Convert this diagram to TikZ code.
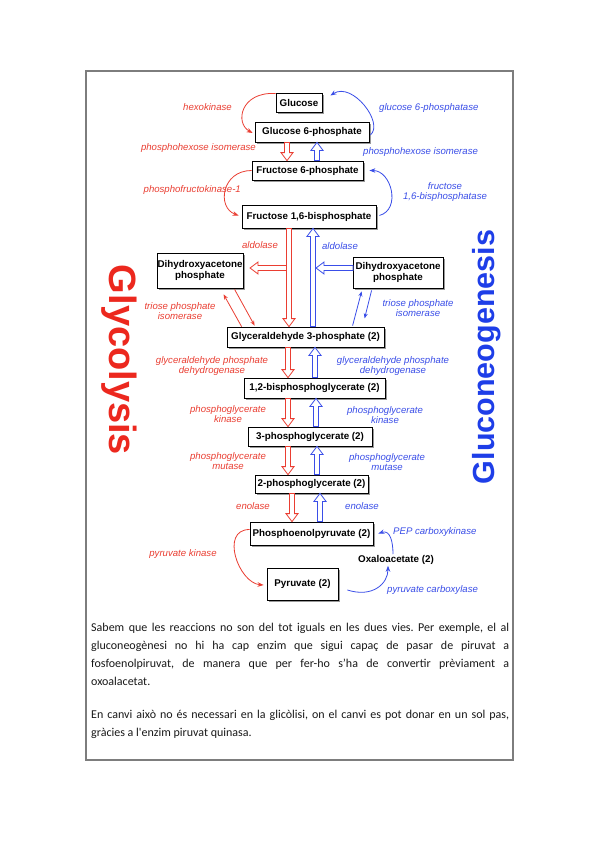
\documentclass[tikz,border=0pt]{standalone}
\usepackage{fontspec}
\setmainfont{Liberation Sans}
\newfontfamily\bodyfont{Carlito}
\usetikzlibrary{calc,arrows.meta,shadows}
\frenchspacing
\definecolor{gred}{RGB}{234,62,50}
\definecolor{gblue}{RGB}{58,78,232}
\definecolor{tred}{RGB}{236,40,30}
\definecolor{tblue}{RGB}{30,62,232}
\definecolor{framegray}{RGB}{125,125,125}
\newcommand\hollowarrow[3]{%
  \coordinate (hb) at ($(#3)!8pt!(#2)$);
  \draw[#1, line width=0.8pt, fill=white, line join=miter]
    ($(#2)!2.5pt!90:(#3)$) -- ($(hb)!2.5pt!90:(#3)$) -- ($(hb)!6pt!90:(#3)$) -- (#3)
    -- ($(hb)!6pt!-90:(#3)$) -- ($(hb)!2.5pt!-90:(#3)$) -- ($(#2)!2.5pt!-90:(#3)$) -- cycle;}
\tikzset{
  box/.style={draw=black, line width=0.8pt, fill=white, inner sep=0pt, align=center,
    font=\fontsize{9.8}{10.5}\selectfont\bfseries,
    drop shadow={shadow xshift=2pt, shadow yshift=-2pt, fill=black!40, opacity=1}},
  rlab/.style={text=gred, inner sep=0pt, align=center, font=\fontsize{9.6}{10}\selectfont\itshape},
  blab/.style={text=gblue, inner sep=0pt, align=center, font=\fontsize{9.6}{10}\selectfont\itshape},
  rcurve/.style={draw=gred, line width=0.8pt, -{Stealth[length=6pt,width=4.5pt]}},
  bcurve/.style={draw=gblue, line width=0.8pt, -{Stealth[length=6pt,width=4.5pt]}},
  body/.style={inner sep=0pt, anchor=base west, text=black!90, font=\bodyfont\fontsize{12}{18}\selectfont},
}
\begin{document}
\begin{tikzpicture}[x=1pt,y=-1pt]
\useasboundingbox (0,0) rectangle (599,848);
\fill[white] (0,0) rectangle (599,848);
\draw[framegray, line width=1.5pt] (86,71) rectangle (513,760);

% boxes
\node[box, minimum width=46pt, minimum height=19pt] (glc) at (299,102.5) {Glucose};
\node[box, minimum width=114pt, minimum height=20pt] (g6p) at (312,132) {Glucose 6-phosphate};
\node[box, minimum width=111pt, minimum height=19pt] (f6p) at (307.5,170.5) {Fructose 6-phosphate};
\node[box, minimum width=134pt, minimum height=23pt] (fbp) at (309,216.5) {Fructose 1,6-bisphosphate};
\node[box, minimum width=86pt, minimum height=35pt] (dhapl) at (200,270.5) {Dihydroxyacetone\\phosphate};
\node[box, minimum width=90pt, minimum height=31pt] (dhapr) at (398,272.5) {Dihydroxyacetone\\phosphate};
\node[box, minimum width=157pt, minimum height=20pt] (g3p) at (305.5,337) {Glyceraldehyde 3-phosphate (2)};
\node[box, minimum width=141pt, minimum height=20pt] (bpg) at (314.5,388) {1,2-bisphosphoglycerate (2)};
\node[box, minimum width=124pt, minimum height=19pt] (pg3) at (310,436.5) {3-phosphoglycerate (2)};
\node[box, minimum width=113pt, minimum height=18pt] (pg2) at (311.5,484) {2-phosphoglycerate (2)};
\node[box, minimum width=123pt, minimum height=23pt] (pep) at (311.5,533.5) {Phosphoenolpyruvate (2)};
\node[box, minimum width=71pt, minimum height=32pt] (pyr) at (302.5,584) {Pyruvate (2)};
\node[inner sep=1pt, font=\fontsize{9.8}{10.5}\selectfont\bfseries] (oxa) at (396,560) {Oxaloacetate (2)};

% column coordinates
\coordinate (ra) at (287,0); \coordinate (ba) at (317,0);
\coordinate (rb) at (289,0); \coordinate (bb) at (313,0);
\coordinate (rc) at (288,0); \coordinate (bc) at (315,0);
\coordinate (rd) at (288,0); \coordinate (bd) at (316,0);
\coordinate (re) at (288,0); \coordinate (be) at (317,0);
\coordinate (rf) at (292,0); \coordinate (bf) at (320,0);
\coordinate (rbr) at (289,268); \coordinate (rtip) at (250,268);
\coordinate (bbr) at (353,268); \coordinate (btip) at (316,268);

% hollow arrows
\hollowarrow{gred}{ra |- g6p.south}{ra |- f6p.north}
\hollowarrow{gblue}{ba |- f6p.north}{ba |- g6p.south}
\hollowarrow{gred}{rbr}{rtip}
\hollowarrow{gred}{rb |- fbp.south}{rb |- g3p.north}
\hollowarrow{gblue}{bb |- g3p.north}{bb |- fbp.south}
\hollowarrow{gblue}{bbr}{btip}
\hollowarrow{gred}{rc |- g3p.south}{rc |- bpg.north}
\hollowarrow{gblue}{bc |- bpg.north}{bc |- g3p.south}
\hollowarrow{gred}{rd |- bpg.south}{rd |- pg3.north}
\hollowarrow{gblue}{bd |- pg3.north}{bd |- bpg.south}
\hollowarrow{gred}{re |- pg3.south}{re |- pg2.north}
\hollowarrow{gblue}{be |- pg2.north}{be |- pg3.south}
\hollowarrow{gred}{rf |- pg2.south}{rf |- pep.north}
\hollowarrow{gblue}{bf |- pep.north}{bf |- pg2.south}

% curved arrows
\draw[rcurve] ($(glc.west)+(0,-9)$) .. controls +(-35,-2) and +(-18,-10) .. ($(g6p.west)+(-2,1)$);
\draw[bcurve] ($(g6p.east)+(1,3)$) .. controls +(14,-12) and +(22,-14) .. ($(glc.east)+(8,-7)$);
\draw[rcurve] (f6p.west) .. controls +(-30,0) and +(-22,-8) .. ($(fbp.west)+(-3,-1)$);
\draw[bcurve] ($(fbp.east)+(3,-1)$) .. controls +(22,-6) and +(22,0) .. ($(f6p.east)+(6,0)$);
\draw[rcurve] ($(pep.west)+(0,-4)$) .. controls +(-30,0) and +(-25,-2) .. ($(pyr.west)+(-3,1)$);
\draw[bcurve] ($(oxa.north)+(-3,0)$) .. controls +(0,-12) and +(12,-4) .. ($(pep.east)+(5,0)$);
\draw[bcurve] ($(pyr.east)+(9,6)$) .. controls +(25,8) and +(0,18) .. ($(oxa.south)+(-8,0)$);

% triose phosphate isomerase arrows
\draw[draw=gred, line width=0.8pt, -{Stealth[length=5pt,width=4pt]}] ($(g3p.north west)+(15,0)$) -- ($(dhapl.south west)+(67,6)$);
\draw[draw=gred, line width=0.8pt, -{Stealth[length=5pt,width=4pt]}] ($(dhapl.south west)+(78,1)$) -- ($(g3p.north west)+(28,-1)$);
\draw[draw=gblue, line width=0.8pt, -{Stealth[length=5pt,width=4pt]}] ($(g3p.north west)+(126,-1)$) -- ($(dhapr.south west)+(9,3)$);
\draw[draw=gblue, line width=0.8pt, -{Stealth[length=5pt,width=4pt]}] ($(dhapr.south west)+(19,2)$) -- ($(dhapr.south west)+(12,30)$);

% labels
\node[rlab, anchor=east] (l1) at (232,107) {hexokinase};
\node[blab, anchor=west] (l2) at (379,108) {glucose 6-phosphatase};
\node[rlab, anchor=east] (l3) at (256,148) {phosphohexose isomerase};
\node[blab, anchor=west] (l4) at (363,152) {phosphohexose isomerase};
\node[rlab, anchor=east] (l5) at (241,190) {phosphofructokinase-1};
\node[blab] (l6) at (445,192) {fructose\\1,6-bisphosphatase};
\node[rlab] (l7) at (260,245) {aldolase};
\node[blab] (l8) at (340,246) {aldolase};
\node[rlab] (l9) at (180,311) {triose phosphate\\isomerase};
\node[blab] (l10) at (418,308) {triose phosphate\\isomerase};
\node[rlab] (l11) at (212,366) {glyceraldehyde phosphate\\dehydrogenase};
\node[blab] (l12) at (393,366) {glyceraldehyde phosphate\\dehydrogenase};
\node[rlab] (l13) at (228,414) {phosphoglycerate\\kinase};
\node[blab] (l14) at (385,415) {phosphoglycerate\\kinase};
\node[rlab] (l15) at (228,461) {phosphoglycerate\\mutase};
\node[blab] (l16) at (387,462) {phosphoglycerate\\mutase};
\node[rlab] (l17) at (253,506) {enolase};
\node[blab] (l18) at (362,506) {enolase};
\node[rlab] (l19) at (183,554) {pyruvate kinase};
\node[blab, anchor=west] (l20) at (393,532) {PEP carboxykinase};
\node[blab, anchor=west] (l21) at (387,590) {pyruvate carboxylase};

% big titles
\node[rotate=-90, text=tred, inner sep=0pt, font=\fontsize{38}{38}\selectfont\bfseries] (glyc) at (119,360) {Glycolysis};
\node[rotate=90, text=tblue, inner sep=0pt, font=\fontsize{30.5}{30.5}\selectfont\bfseries] (gng) at (487,357) {Gluconeogenesis};

% body text
\node[body] (t1) at (91,631) {\makebox[418pt][s]{Sabem que les reaccions no son del tot iguals en les dues vies. Per exemple, el al}};
\node[body] (t2) at (91,649) {\makebox[418pt][s]{gluconeogènesi no hi ha cap enzim que sigui capaç de pasar de piruvat a}};
\node[body] (t3) at (91,667) {\makebox[418pt][s]{fosfoenolpiruvat, de manera que per fer-ho s’ha de convertir prèviament a}};
\node[body] (t4) at (91,685) {oxoalacetat.};
\node[body] (t5) at (91,718) {\makebox[418pt][s]{En canvi això no és necessari en la glicòlisi, on el canvi es pot donar en un sol pas,}};
\node[body] (t6) at (91,736) {gràcies a l'enzim piruvat quinasa.};
\end{tikzpicture}
\end{document}
